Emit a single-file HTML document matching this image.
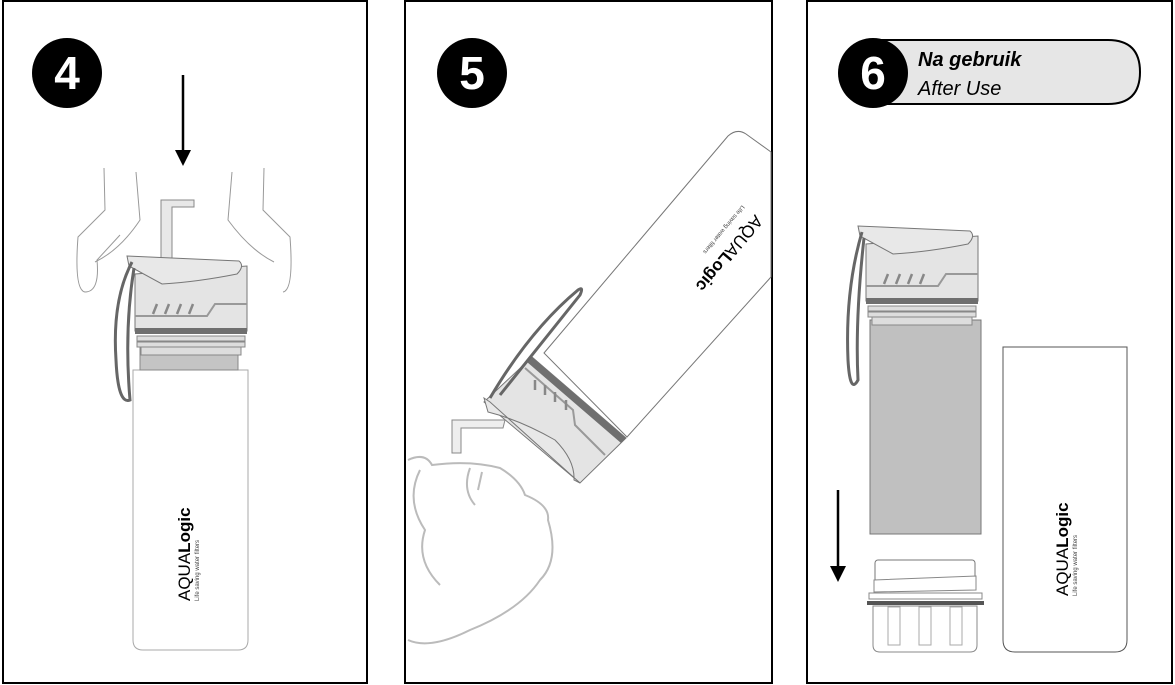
<!DOCTYPE html>
<html><head><meta charset="utf-8"><style>
html,body{margin:0;padding:0;background:#fff;}
svg{display:block;font-family:"Liberation Sans",sans-serif;}
</style></head><body>
<svg width="1175" height="685" viewBox="0 0 1175 685" xmlns="http://www.w3.org/2000/svg">
<defs>
<g id="cap">
  <path d="M8,18 L8,75 L120,75 L120,10 Z" fill="#e4e4e4" stroke="#777" stroke-width="1"/>
  <path d="M0,0 L2,10 L35,28 Q70,26 110,18 Q118,10 112,5 Z" fill="#e8e8e8" stroke="#777" stroke-width="1"/>
  <path d="M8,60 L80,60 L88,48 L120,48" fill="none" stroke="#999" stroke-width="2"/>
  <path d="M26,58 l4,-10 M38,58 l4,-10 M50,58 l4,-10 M62,58 l4,-10" stroke="#888" stroke-width="2.5"/>
  <rect x="8" y="72" width="112" height="6" fill="#6f6f6f"/>
  <rect x="10" y="80" width="108" height="5" fill="#ddd" stroke="#888" stroke-width="1"/>
  <rect x="10" y="86" width="108" height="5" fill="#ddd" stroke="#888" stroke-width="1"/>
  <rect x="14" y="91" width="100" height="8" fill="#ddd" stroke="#888" stroke-width="1"/>
</g>
</defs>

<rect x="3" y="1" width="364" height="682" fill="none" stroke="#000" stroke-width="2"/>
<rect x="405" y="1" width="367" height="682" fill="none" stroke="#000" stroke-width="2"/>
<rect x="807" y="1" width="365" height="682" fill="none" stroke="#000" stroke-width="2"/>

<!-- Panel 4 -->
<circle cx="67" cy="73" r="35" fill="#000"/>
<text x="67" y="89" font-size="46" font-weight="bold" fill="#fff" text-anchor="middle">4</text>
<line x1="183" y1="75" x2="183" y2="152" stroke="#000" stroke-width="2.5"/>
<path d="M175,150 L191,150 L183,166 Z" fill="#000"/>
<path d="M104,168 L105,210 L78,237 Q74,290 85,292 Q100,292 97,260 L120,235" fill="none" stroke="#999" stroke-width="1"/>
<path d="M136,172 L140,220 Q120,250 95,262" fill="none" stroke="#999" stroke-width="1"/>
<path d="M264,168 L263,210 L290,237 Q294,290 283,292" fill="none" stroke="#999" stroke-width="1"/>
<path d="M232,172 L228,220 Q250,250 274,262" fill="none" stroke="#999" stroke-width="1"/>
<path d="M161,262 L161,200 L194,200 L194,207 L172,207 L172,262 Z" fill="#e8e8e8" stroke="#888" stroke-width="1"/>
<path d="M133,370 L248,370 L248,640 Q248,650 238,650 L143,650 Q133,650 133,640 Z" fill="#fff" stroke="#aaa" stroke-width="1"/>
<rect x="140" y="344" width="98" height="26" fill="#c4c4c4" stroke="#888" stroke-width="1"/>
<use href="#cap" x="127" y="256"/>
<path d="M132,262 Q112,300 116,360 Q118,405 130,400 Q124,330 134,268" fill="none" stroke="#666" stroke-width="3"/>
<text transform="translate(190,601) rotate(-90)" font-size="17" fill="#000">AQUA<tspan font-weight="bold">Logic</tspan></text>
<text transform="translate(199,601) rotate(-90)" font-size="6" fill="#444">Life saving water filters</text>

<!-- Panel 5 -->
<circle cx="472" cy="73" r="35" fill="#000"/>
<text x="472" y="89" font-size="46" font-weight="bold" fill="#fff" text-anchor="middle">5</text>
<path d="M544,353 L728,136 Q737,128 746,134 L771,152 L771,277 L627,437 Z" fill="#fff" stroke="#777" stroke-width="1"/>
<text transform="translate(755,214) rotate(130)" font-size="17" fill="#000">AQUA<tspan font-weight="bold">Logic</tspan></text>
<text transform="translate(742,205) rotate(130)" font-size="6" fill="#444">Life saving water filters</text>
<path d="M532,357 L626,438 L580,483 L484,402 Z" fill="#e4e4e4" stroke="#777" stroke-width="1"/>
<path d="M532,357 L626,438 L621,443 L527,362 Z" fill="#6f6f6f"/>
<path d="M484,398 L488,412 Q520,420 555,440 Q575,460 574,480 L580,483 L490,402 Z" fill="#e8e8e8" stroke="#777" stroke-width="1"/>
<path d="M525,368 L573,410 L575,425 L605,455" fill="none" stroke="#999" stroke-width="2"/>
<path d="M535,380 l0,10 M545,385 l0,10 M555,392 l0,10 M566,400 l0,10" stroke="#888" stroke-width="2.5"/>
<path d="M490,398 Q530,330 578,290 Q584,286 580,295 Q540,345 500,395" fill="none" stroke="#666" stroke-width="3"/>
<path d="M452,420 L452,453 L461,453 L461,428 L503,428 L505,420 Z" fill="#eee" stroke="#888" stroke-width="1"/>
<path d="M408,460 Q425,452 432,465 Q470,460 500,468 Q520,480 525,495 Q550,505 548,520 Q560,560 540,580 Q520,610 470,630 Q430,650 408,640" fill="none" stroke="#bbb" stroke-width="2"/>
<path d="M420,470 Q405,500 425,530 Q415,560 440,585 M470,468 Q462,490 475,505 M482,472 l-4,18" fill="none" stroke="#bbb" stroke-width="2"/>

<!-- Panel 6 -->
<path d="M870,40 L1108,40 Q1140,40 1140,72 Q1140,104 1108,104 L870,104 Z" fill="#e6e6e6" stroke="#000" stroke-width="2"/>
<circle cx="873" cy="73" r="35" fill="#000"/>
<text x="873" y="89" font-size="46" font-weight="bold" fill="#fff" text-anchor="middle">6</text>
<text x="918" y="66" font-size="20" font-weight="bold" font-style="italic" fill="#000">Na gebruik</text>
<text x="918" y="95" font-size="20" font-style="italic" fill="#000">After Use</text>
<rect x="870" y="320" width="111" height="214" fill="#c0c0c0" stroke="#777" stroke-width="1"/>
<use href="#cap" x="858" y="226"/>
<path d="M862,232 Q845,290 848,360 Q850,395 858,380 Q855,320 864,238" fill="none" stroke="#666" stroke-width="3"/>
<line x1="838" y1="490" x2="838" y2="568" stroke="#000" stroke-width="2.5"/>
<path d="M830,566 L846,566 L838,582 Z" fill="#000"/>
<rect x="875" y="560" width="100" height="22" rx="3" fill="#fff" stroke="#777" stroke-width="1"/>
<path d="M874,580 L976,576 L976,590 L874,592 Z" fill="#fff" stroke="#888" stroke-width="1"/>
<rect x="869" y="593" width="113" height="6" fill="#fff" stroke="#888" stroke-width="1"/>
<rect x="867" y="601" width="117" height="4" fill="#555"/>
<path d="M873,606 L977,606 L977,645 Q977,652 970,652 L880,652 Q873,652 873,645 Z" fill="#fff" stroke="#888" stroke-width="1"/>
<rect x="888" y="607" width="12" height="38" fill="none" stroke="#aaa" stroke-width="1"/>
<rect x="919" y="607" width="12" height="38" fill="none" stroke="#aaa" stroke-width="1"/>
<rect x="950" y="607" width="12" height="38" fill="none" stroke="#aaa" stroke-width="1"/>
<path d="M1003,347 L1127,347 L1127,640 Q1127,652 1115,652 L1015,652 Q1003,652 1003,640 Z" fill="#fff" stroke="#555" stroke-width="1"/>
<text transform="translate(1068,596) rotate(-90)" font-size="17" fill="#000">AQUA<tspan font-weight="bold">Logic</tspan></text>
<text transform="translate(1077,596) rotate(-90)" font-size="6" fill="#444">Life saving water filters</text>
</svg>
</body></html>
